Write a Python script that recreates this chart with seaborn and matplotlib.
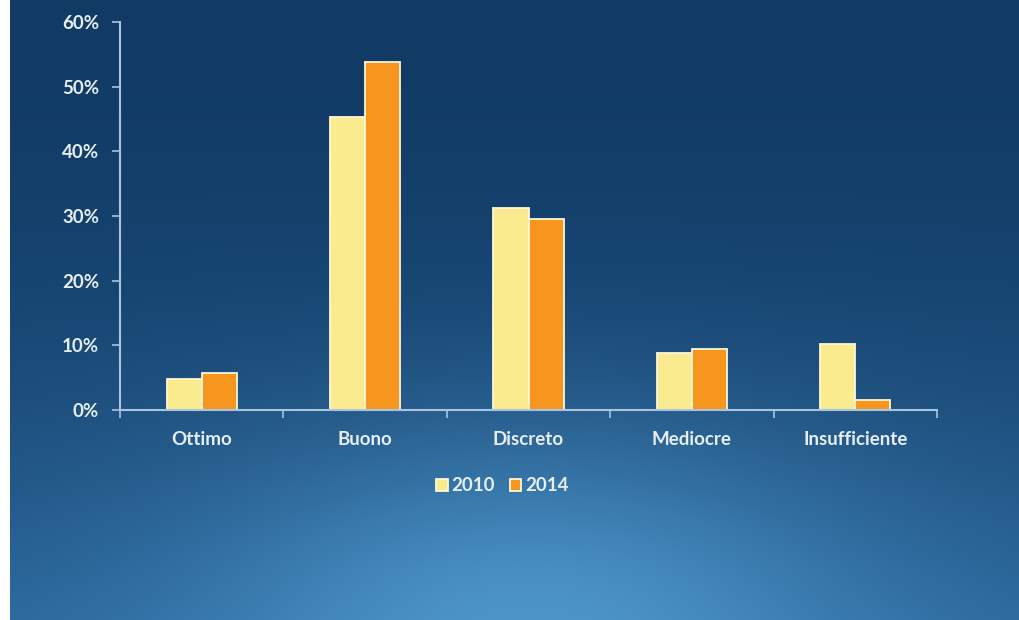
import numpy as np
import pandas as pd
import matplotlib
matplotlib.use("Agg")
import matplotlib.pyplot as plt
import seaborn as sns

categories = ["Ottimo", "Buono", "Discreto", "Mediocre", "Insufficiente"]
years = ["2010", "2014"]
values_2010 = [4.8, 45.3, 31.3, 8.8, 10.2]
values_2014 = [5.7, 53.8, 29.6, 9.4, 1.5]
y_ticks = [0, 10, 20, 30, 40, 50, 60]
y_tick_labels = ["0%", "10%", "20%", "30%", "40%", "50%", "60%"]

df = pd.DataFrame({
    "categoria": categories * 2,
    "anno": [years[0]] * len(categories) + [years[1]] * len(categories),
    "valore": values_2010 + values_2014,
})

sns.set_theme(style="white")
plt.rcParams["font.family"] = ["Lato", "DejaVu Sans"]

W, H = 1019, 620
fig = plt.figure(figsize=(W / 100, H / 100), dpi=100, facecolor="white")

# blue gradient backdrop with a soft glow near the bottom centre
bg = fig.add_axes([10 / W, 0, 1 - 10 / W, 1])
bw, bh = W - 10, H
yy, xx = np.mgrid[0:bh, 0:bw]
t = (yy / bh) ** 1.9
top = np.array([0x11, 0x3B, 0x65]) / 255
bottom = np.array([0x2A, 0x66, 0x9A]) / 255
img = top[None, None, :] * (1 - t[..., None]) + bottom[None, None, :] * t[..., None]
glow_col = np.array([0x4E, 0x96, 0xCA]) / 255
g = np.exp(-(((xx - 520) / 340) ** 2 + ((yy - 650) / 200) ** 2))
img = img * (1 - g[..., None]) + glow_col[None, None, :] * g[..., None]
bg.imshow(img, aspect="auto", extent=[0, bw, bh, 0])
bg.set_axis_off()

ax = fig.add_axes([120 / W, 1 - 410 / H, (937 - 120) / W, (410 - 22) / H])
ax.patch.set_alpha(0)

palette = {"2010": "#F9EB8E", "2014": "#F7961E"}
sns.barplot(data=df, x="categoria", y="valore", hue="anno", order=categories,
            hue_order=years, palette=palette, width=0.43, gap=0,
            edgecolor="#FFF6D8", linewidth=1.3, saturation=1, ax=ax)

ax.set_xlim(-0.5, len(categories) - 0.5)
ax.set_ylim(0, 60)
ax.set_yticks(y_ticks)
ax.set_yticklabels(y_tick_labels)
ax.set_xlabel("")
ax.set_ylabel("")

axis_col = "#A9C4DC"
for side in ["top", "right"]:
    ax.spines[side].set_visible(False)
for side in ["left", "bottom"]:
    ax.spines[side].set_color(axis_col)
    ax.spines[side].set_linewidth(1.5)

fs = 13.5
ax.tick_params(axis="y", which="major", length=6, width=1.2, color=axis_col,
               left=True, labelsize=fs, labelcolor="#E6EEF5", pad=9)
ax.tick_params(axis="x", which="major", length=0, labelsize=fs,
               labelcolor="#E6EEF5", pad=15)
ax.set_xticks(np.arange(-0.5, len(categories), 1.0), minor=True)
ax.tick_params(axis="x", which="minor", length=6, width=1.2, color=axis_col,
               bottom=True)
for lab in ax.get_xticklabels() + ax.get_yticklabels():
    lab.set_fontweight("bold")

leg = ax.legend(loc="upper center", bbox_to_anchor=(0.468, -0.13), ncol=2,
                frameon=False, handlelength=0.6, handleheight=0.6,
                handletextpad=0.2, columnspacing=0.8, fontsize=fs)
for txt in leg.get_texts():
    txt.set_color("#E6EEF5")
    txt.set_fontweight("bold")

fig.savefig("out.png", dpi=100, facecolor="white")
